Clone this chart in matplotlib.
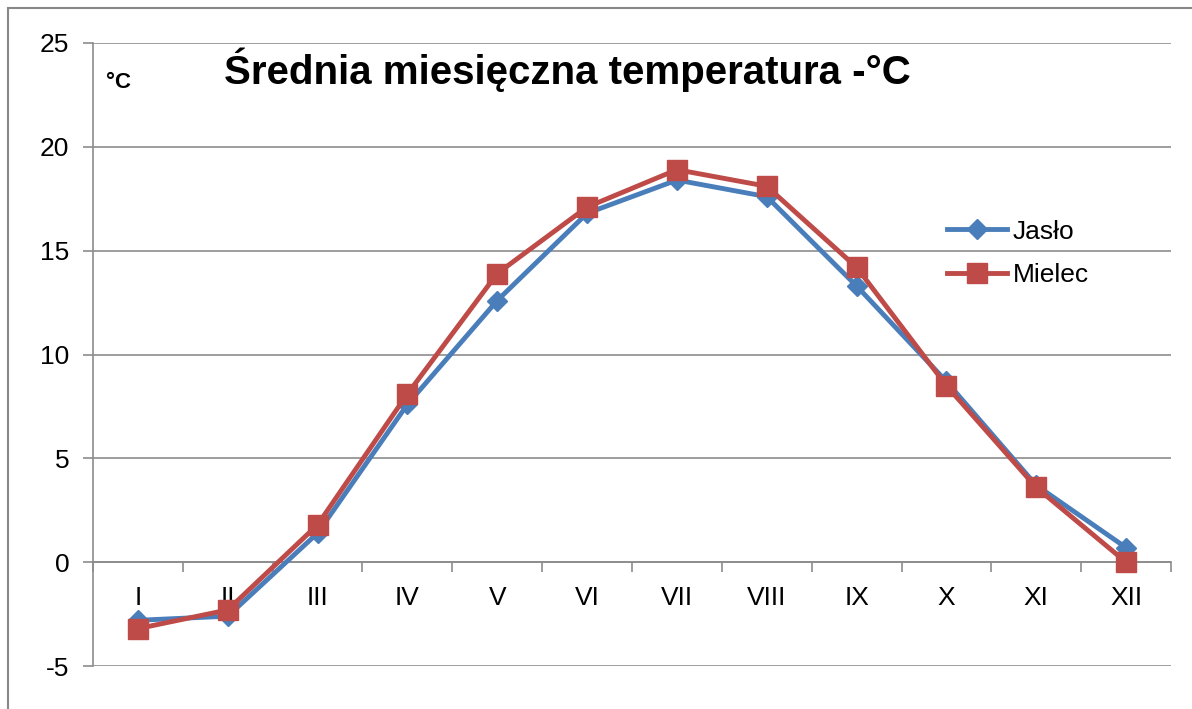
import matplotlib
matplotlib.use("Agg")
import matplotlib.pyplot as plt
from matplotlib.patches import Rectangle

months = ["I", "II", "III", "IV", "V", "VI", "VII", "VIII", "IX", "X", "XI", "XII"]
jaslo = [-2.8, -2.6, 1.4, 7.6, 12.6, 16.8, 18.4, 17.6, 13.3, 8.7, 3.7, 0.7]
mielec = [-3.2, -2.3, 1.8, 8.1, 13.9, 17.1, 18.9, 18.1, 14.2, 8.5, 3.6, 0.0]
yticks = [-5, 0, 5, 10, 15, 20, 25]

plt.rcParams['font.family'] = ['Liberation Sans', 'DejaVu Sans']

W, H = 1192, 709
fig = plt.figure(figsize=(W / 100, H / 100), dpi=100)
fig.patch.set_facecolor("white")

# outer frame
fig.add_artist(Rectangle((8 / W, -0.05), 1.2, (H - 8) / H + 0.05, transform=fig.transFigure,
                         fill=False, edgecolor="#888888", linewidth=1.5))

ax = fig.add_axes([93 / W, 1 - 666 / H, (1171 - 93) / W, (666 - 43) / H])
x = list(range(1, len(months) + 1))
grid_c = "#8c8c8c"

ax.plot(x, jaslo, color="#4A7EBB", linewidth=3.5, marker="D", markersize=10,
        label="Jasło", zorder=3)
ax.plot(x, mielec, color="#BE4B48", linewidth=3.5, marker="s", markersize=15,
        label="Mielec", zorder=4)

ax.set_xlim(0.5, len(months) + 0.5)
ax.set_ylim(-5, 25)
ax.set_yticks(yticks)
ax.set_yticklabels([str(v) for v in yticks], fontsize=19)
ax.yaxis.grid(True, color=grid_c, linewidth=1.2)
ax.set_axisbelow(True)

for s in ["top", "right"]:
    ax.spines[s].set_visible(False)
ax.spines["left"].set_color(grid_c)
ax.spines["left"].set_linewidth(1.2)
ax.spines["bottom"].set_position(("data", 0))
ax.spines["bottom"].set_color(grid_c)
ax.spines["bottom"].set_linewidth(1.2)

ax.set_xticks(x)
ax.set_xticklabels(months, fontsize=19)
ax.set_xticks([v + 0.5 for v in range(0, len(months) + 1)], minor=True)
ax.tick_params(axis="x", which="major", length=0, pad=17)
ax.tick_params(axis="x", which="minor", length=7, color=grid_c, width=1.2, direction="out")
ax.tick_params(axis="y", length=7, color=grid_c, width=1.2, pad=10)

fig.text(567 / W, 1 - 70 / H, "Średnia miesięczna temperatura -°C", fontsize=29,
         fontweight="bold", ha="center", va="center")
fig.text(106 / W, 1 - 83 / H, "°C", fontsize=16, fontweight="bold", ha="left", va="center")

leg = ax.legend(loc="upper left", bbox_to_anchor=(936 / W, 1 - 209 / H),
                bbox_transform=fig.transFigure, frameon=False, fontsize=19,
                handlelength=2.3, handletextpad=0.2, labelspacing=0.75, borderaxespad=0)

fig.savefig("out.png", dpi=100)
